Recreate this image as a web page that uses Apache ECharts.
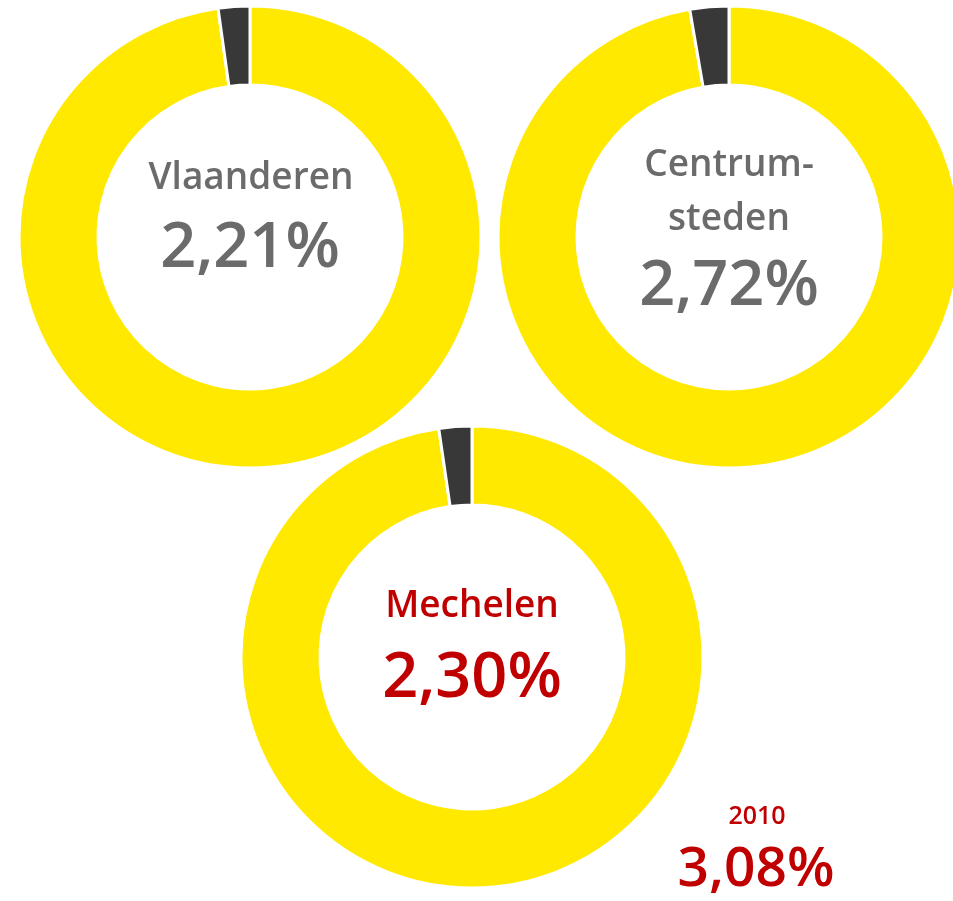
<!DOCTYPE html>
<html><head><meta charset="utf-8">
<script src="https://cdn.jsdelivr.net/npm/echarts@6/dist/echarts.min.js"></script>
<style>html,body{margin:0;padding:0;background:#fff}#c{width:953px;height:901px}</style>
</head><body><div id="c"></div>
<script>
const names = ['Vlaanderen', 'Centrum-\nsteden', 'Mechelen'];
const values = [2.21, 2.72, 2.30];
const labels = ['2,21%', '2,72%', '2,30%'];
const extraYear = '2010';
const extraLabel = '3,08%';

const centers = [[250, 237], [729, 237], [472, 657]];
const nameColors = ['#6b6b6b', '#6b6b6b', '#c00000'];
const yellow = '#FFE900', dark = '#383838';

const chart = echarts.init(document.getElementById('c'), null, {renderer: 'canvas'});
const series = values.map((v, i) => ({
  type: 'pie', center: centers[i], radius: [152, 231], startAngle: 90, clockwise: true,
  silent: true, label: {show: false}, labelLine: {show: false},
  itemStyle: {borderColor: '#fff', borderWidth: 3},
  data: [
    {value: 100 - v, name: 'rest', itemStyle: {color: yellow}},
    {value: v, name: names[i], itemStyle: {color: dark}}
  ]
}));
const ff = '"Open Sans", sans-serif';
const texts = [];
const namePos = [[251, 178], [729, 192], [472, 606]];
const valPos = [[250, 249], [729, 287], [472, 679]];
values.forEach((v, i) => {
  texts.push({type: 'text', x: namePos[i][0], y: namePos[i][1], style: {
    text: names[i], fill: nameColors[i], font: '600 37px ' + ff, align: 'center', verticalAlign: 'middle', lineHeight: 54}});
  texts.push({type: 'text', x: valPos[i][0], y: valPos[i][1], style: {
    text: labels[i], fill: nameColors[i], font: '600 63px ' + ff, align: 'center', verticalAlign: 'middle'}});
});
texts.push({type: 'text', x: 757, y: 817, style: {text: extraYear, fill: '#c00000', font: '600 25px ' + ff, align: 'center', verticalAlign: 'middle'}});
texts.push({type: 'text', x: 756, y: 870, style: {text: extraLabel, fill: '#c00000', font: '600 55px ' + ff, align: 'center', verticalAlign: 'middle'}});

chart.setOption({animation: false, series, graphic: texts});
</script></body></html>
